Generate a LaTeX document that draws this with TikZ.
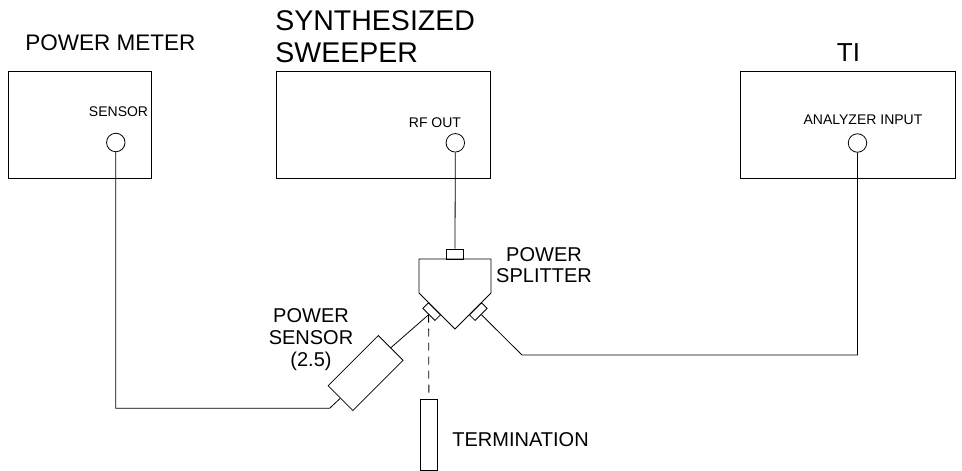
\documentclass[tikz,border=0pt]{standalone}
\usepackage{fontspec}
\setmainfont{Liberation Sans}
\begin{document}
\begin{tikzpicture}[x=1pt,y=-1pt,line width=0.8pt,
  box/.style={draw,rectangle,inner sep=0pt,minimum width=214.6pt,minimum height=107pt},
  port/.style={draw,circle,inner sep=0pt,minimum size=18.5pt},
  conn/.style={draw,rectangle,inner sep=0pt,minimum width=17pt,minimum height=8pt},
  title/.style={inner sep=0pt,font=\fontsize{22.5}{26}\selectfont},
  small/.style={inner sep=0pt,font=\fontsize{14}{16}\selectfont},
  label/.style={inner sep=0pt,font=\fontsize{20}{21}\selectfont,align=center},
  wire/.style={draw},
  dashwire/.style={draw,dash pattern=on 8pt off 6pt}]
\useasboundingbox (0,0) rectangle (962,471);

% instruments
\node[box,minimum width=143pt] (pm) at (79.5,124.5) {};
\node[box] (sw) at (383.3,124.5) {};
\node[box] (ti) at (848,124.5) {};

\node[title,anchor=west] (pmt) at (25,42.5) {POWER METER};
\node[title,anchor=north west,align=left,font=\fontsize{28.5}{31.5}\selectfont] (swt) at (275,10.3) {SYNTHESIZED\\SWEEPER};
\node[title,font=\fontsize{26}{28}\selectfont] (tit) at (848.5,53) {TI};

\node[small,anchor=east] (pml) at (148.5,111.5) {SENSOR};
\node[small] (swl) at (435,122.5) {RF OUT};
\node[small] (til) at (863,120) {ANALYZER INPUT};

\node[port] (pmc) at (115.8,142.5) {};
\node[port] (swc) at (455.3,142.8) {};
\node[port] (tic) at (857.5,143) {};

% power splitter
\coordinate (sptl) at (419,259);
\coordinate (sptr) at (491,259);
\coordinate (spr) at (491,293);
\coordinate (spb) at (455,329);
\coordinate (spl) at (419,293);
\draw (sptl) -- (sptr) -- (spr) -- (spb) -- (spl) -- cycle;
\node[conn,minimum height=10pt] (tconn) at (455,254) {};
\node[conn,rotate=-45] (lconn) at (431.7,311.6) {};
\node[conn,rotate=45] (rconn) at (478.3,311.6) {};
\node[label] (spt) at (544,264.8) {POWER\\SPLITTER};

% power sensor
\node[draw,rectangle,inner sep=0pt,minimum width=71pt,minimum height=35pt,rotate=45] (psens) at (365.6,373) {};
\node[label,font=\fontsize{20}{22}\selectfont] (pst) at (311,340) {POWER\\SENSOR\\(2.5)};

% termination
\node[draw,rectangle,inner sep=0pt,minimum width=17.7pt,minimum height=71pt] (term) at (428.9,434.5) {};
\node[label,anchor=west] (tmt) at (452,440) {TERMINATION};

% cables
\coordinate (lbend) at (329.6,408.3);
\coordinate (rbend) at (522,355);
\draw[wire] (swc.south) -- (tconn.north);
\draw[wire] (lconn.south) -- (psens.east);
\draw[wire] (psens.west) -- (lbend) -| (pmc.south);
\draw[wire] (rconn.south) -- (rbend) -| (tic.south);
\draw[dashwire] (lconn.south) -- (term.north);
\end{tikzpicture}
\end{document}
